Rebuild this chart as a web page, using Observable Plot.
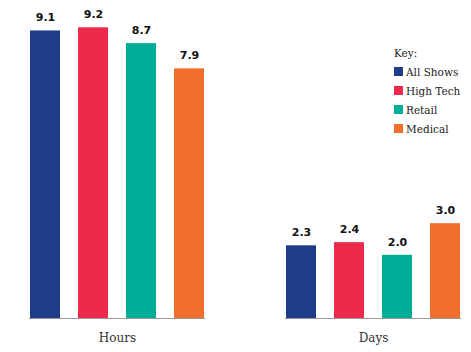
<!DOCTYPE html>
<html>
<head>
<meta charset="utf-8">
<script src="https://cdn.jsdelivr.net/npm/d3@7"></script>
<script src="https://cdn.jsdelivr.net/npm/@observablehq/plot@0.6"></script>
<style>
  html, body { margin: 0; padding: 0; background: #fff; }
  #wrap { position: relative; width: 471px; height: 352px; }
  #legend { position: absolute; left: 394px; top: 45px; font-family: "DejaVu Serif", serif; font-size: 10.5px; color: #222; }
  #legend .row { display: flex; align-items: center; height: 19px; }
  #legend .sw { width: 9px; height: 9px; margin-right: 3px; }
  #legend .title { height: 17px; line-height: 17px; }
</style>
</head>
<body>
<div id="wrap"><div id="legend"></div></div>
<script>
const groups = ["Hours", "Days"];
const series = ["All Shows", "High Tech", "Retail", "Medical"];
const hours = [9.1, 9.2, 8.7, 7.9];
const days = [2.3, 2.4, 2.0, 3.0];
const colors = ["#1f3c88", "#ee2a4c", "#00ae97", "#f26e2c"];

const data = [];
series.forEach((s, i) => {
  data.push({group: "Hours", series: s, value: hours[i]});
});
series.forEach((s, i) => {
  data.push({group: "Days", series: s, value: days[i]});
});

const chart = Plot.plot({
  width: 471,
  height: 352,
  marginLeft: 29,
  marginRight: 10,
  marginTop: 2,
  marginBottom: 34,
  fx: {domain: groups, paddingInner: 0.3125, paddingOuter: 0, label: null, axis: null},
  x: {domain: series, paddingInner: 0.3836, paddingOuter: 0, axis: null},
  y: {domain: [0, 10], axis: null},
  color: {domain: series, range: colors},
  marks: [
    Plot.barY(data, {fx: "group", x: "series", y: "value", fill: "series"}),
    Plot.ruleY([0], {stroke: "#9a9a9a", strokeWidth: 1}),
    Plot.text(data, {fx: "group", x: "series", y: "value", text: d => d.value.toFixed(1), dy: -13, fontWeight: "bold", fontSize: 11, fontFamily: "DejaVu Sans", fill: "#111"}),
    Plot.axisFx({anchor: "bottom", tickSize: 0, tickPadding: 15, fontSize: 12, fontFamily: "DejaVu Serif", label: null, fill: "#333"})
  ]
});
document.getElementById("wrap").prepend(chart);

const legend = document.getElementById("legend");
const t = document.createElement("div");
t.className = "title";
t.textContent = "Key:";
legend.appendChild(t);
series.forEach((s, i) => {
  const r = document.createElement("div");
  r.className = "row";
  const sw = document.createElement("span");
  sw.className = "sw";
  sw.style.background = colors[i];
  const lb = document.createElement("span");
  lb.textContent = s;
  r.appendChild(sw);
  r.appendChild(lb);
  legend.appendChild(r);
});
</script>
</body>
</html>
